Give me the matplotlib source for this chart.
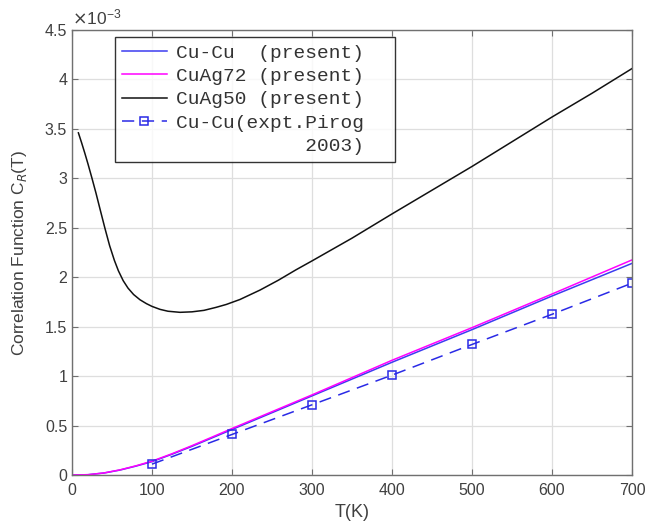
import matplotlib
matplotlib.use("Agg")
import matplotlib.pyplot as plt
from matplotlib.lines import Line2D

# Data (values in units of 1e-3)
T_cucu = [0, 20, 40, 60, 80, 100, 125, 150, 175, 200, 250, 300, 400, 500, 600, 700]
C_cucu = [0, 0.003, 0.02, 0.05, 0.09, 0.135, 0.21, 0.29, 0.375, 0.46, 0.63, 0.80, 1.14, 1.47, 1.81, 2.14]

T_cuag72 = [0, 20, 40, 60, 80, 100, 125, 150, 175, 200, 250, 300, 400, 500, 600, 700]
C_cuag72 = [0, 0.003, 0.021, 0.052, 0.093, 0.14, 0.215, 0.297, 0.383, 0.47, 0.64, 0.81, 1.16, 1.49, 1.83, 2.175]

T_cuag50 = [8, 12, 16, 20, 25, 30, 35, 41, 47, 53, 58, 64, 70, 77, 85, 93, 100, 110, 120,
            135, 150, 165, 180, 193, 210, 235, 258, 280, 300, 350, 400, 450, 500, 550, 600, 650, 700]
C_cuag50 = [3.46, 3.36, 3.255, 3.145, 3.0, 2.85, 2.69, 2.5, 2.32, 2.17, 2.065, 1.965, 1.89, 1.825,
            1.772, 1.733, 1.705, 1.675, 1.656, 1.645, 1.65, 1.665, 1.695, 1.725, 1.775, 1.87,
            1.97, 2.075, 2.165, 2.395, 2.64, 2.88, 3.12, 3.37, 3.62, 3.86, 4.11]

T_expt = [100, 200, 300, 400, 500, 600, 700]
C_expt = [0.11, 0.41, 0.71, 1.01, 1.32, 1.625, 1.94]

labels = ["Cu-Cu  (present)  ", "CuAg72 (present)  ", "CuAg50 (present)  ",
          "Cu-Cu(expt.Pirog  ", "           2003)  "]
xticks = [0, 100, 200, 300, 400, 500, 600, 700]
yticks = [0, 0.5, 1, 1.5, 2, 2.5, 3, 3.5, 4, 4.5]

plt.rcParams['font.family'] = ['Liberation Sans', 'DejaVu Sans']

fig = plt.figure(figsize=(6.48, 5.26), dpi=100)
ax = fig.add_axes([72/648, 51/526, 560/648, 445/526])

tc = '#404040'
h1, = ax.plot(T_cucu, C_cucu, color='#3c3cf0', lw=1.1)
h2, = ax.plot(T_cuag72, C_cuag72, color='#ff00ff', lw=1.1)
h3, = ax.plot(T_cuag50, C_cuag50, color='#111111', lw=1.1)
h4, = ax.plot(T_expt, C_expt, color='#2a2ae6', lw=1.1, ls=(0, (8, 5)), marker='s',
              markersize=6, markerfacecolor='none', markeredgewidth=1.1)
h5 = Line2D([], [], color='none')

ax.set_xlim(0, 700)
ax.set_ylim(0, 4.5)
ax.set_xticks(xticks)
ax.set_yticks(yticks)
ax.set_xticklabels([str(v) for v in xticks])
ax.set_yticklabels([("%g" % v) for v in yticks])
ax.tick_params(direction='in', length=4, width=0.8, colors='#707070',
               labelcolor=tc, labelsize=11.5, top=True, right=True)
ax.tick_params(axis='x', pad=6)
for s in ax.spines.values():
    s.set_color('#707070')
    s.set_linewidth(1.0)
ax.grid(True, color='#dedede', lw=0.9)
ax.set_axisbelow(True)

ax.set_xlabel('T(K)', fontsize=13, color=tc, labelpad=4)
ax.set_ylabel('Correlation Function C$_R$(T)', fontsize=12.5, color=tc, labelpad=11)
ax.text(0.0, 1.005, r'$\times\mathregular{10^{-3}}$', transform=ax.transAxes,
        fontsize=12.5, color=tc, ha='left', va='bottom')

leg = ax.legend([h1, h2, h3, h4, h5], labels, loc='upper left',
                bbox_to_anchor=(0.077, 0.984), borderaxespad=0,
                prop={'family': 'Liberation Mono', 'size': 14},
                handlelength=2.3, handletextpad=0.5, labelspacing=0.3,
                borderpad=0.35, frameon=True, fancybox=False)
leg.get_frame().set_edgecolor('black')
leg.get_frame().set_linewidth(1.0)
for t in leg.get_texts():
    t.set_color('#333333')

fig.savefig('out.png', dpi=100)
